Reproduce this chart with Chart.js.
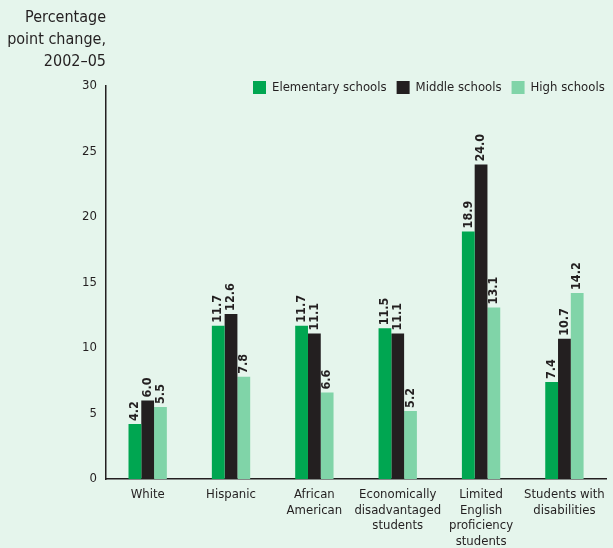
<!DOCTYPE html>
<html>
<head>
<meta charset="utf-8">
<script src="https://cdn.jsdelivr.net/npm/chart.js@4"></script>
<style>
  html, body { margin: 0; padding: 0; background: #e5f5ec; }
  #wrap { position: relative; width: 613px; height: 548px; }
</style>
</head>
<body>
<div id="wrap"><canvas id="chart" width="613" height="548"></canvas></div>
<script>
// Données du graphique
const categories = [
    ['White'],
    ['Hispanic'],
    ['African', 'American'],
    ['Economically', 'disadvantaged', 'students'],
    ['Limited', 'English', 'proficiency', 'students'],
    ['Students with', 'disabilities']
];
const seriesNames = ['Elementary schools', 'Middle schools', 'High schools'];
const elementary = [4.2, 11.7, 11.7, 11.5, 18.9, 7.4];
const middle = [6.0, 12.6, 11.1, 11.1, 24.0, 10.7];
const high = [5.5, 7.8, 6.6, 5.2, 13.1, 14.2];
const yTicks = [0, 5, 10, 15, 20, 25, 30];
const titleLines = ['Percentage', 'point change,', '2002\u201305'];

const colors = ['#00a651', '#231f20', '#80d4a8'];
const FONT = '"Liberation Sans Narrow", "DejaVu Sans Condensed", sans-serif';
const TEXT = '#231f20';

// Plugin : titre, légende et étiquettes de valeurs
const decorations = {
    id: 'decorations',
    afterDraw(chart) {
        const ctx = chart.ctx;
        ctx.save();
        // Titre de l'axe
        ctx.fillStyle = TEXT;
        ctx.font = '16px ' + FONT;
        ctx.textAlign = 'right';
        ctx.textBaseline = 'middle';
        titleLines.forEach((t, i) => ctx.fillText(t, 106, 18 + i * 22));

        // Légende
        ctx.font = '13px ' + FONT;
        ctx.textAlign = 'left';
        let x = 253;
        seriesNames.forEach((name, i) => {
            ctx.fillStyle = colors[i];
            ctx.fillRect(x, 81, 13, 13);
            ctx.fillStyle = TEXT;
            ctx.fillText(name, x + 19, 88);
            x += 19 + ctx.measureText(name).width + 10;
        });

        // Valeurs verticales au-dessus des barres
        ctx.font = 'bold 12.5px ' + FONT;
        ctx.textAlign = 'left';
        ctx.textBaseline = 'middle';
        chart.data.datasets.forEach((ds, di) => {
            chart.getDatasetMeta(di).data.forEach((bar, i) => {
                ctx.save();
                ctx.translate(bar.x, bar.y - 3);
                ctx.rotate(-Math.PI / 2);
                ctx.fillStyle = TEXT;
                ctx.fillText(ds.data[i].toFixed(1), 0, 0);
                ctx.restore();
            });
        });
        ctx.restore();
    }
};

const chart = new Chart(document.getElementById('chart'), {
    type: 'bar',
    data: {
        labels: categories,
        datasets: [
            { label: seriesNames[0], data: elementary, backgroundColor: colors[0] },
            { label: seriesNames[1], data: middle, backgroundColor: colors[1] },
            { label: seriesNames[2], data: high, backgroundColor: colors[2] }
        ]
    },
    options: {
        responsive: false,
        animation: false,
        layout: { padding: { top: 86, right: 3, left: 0, bottom: 0 } },
        datasets: { bar: { barPercentage: 1, categoryPercentage: 0.46 } },
        plugins: {
            legend: { display: false },
            tooltip: { enabled: false }
        },
        scales: {
            x: {
                grid: { display: false, drawTicks: false },
                border: { display: true, color: TEXT, width: 1.5 },
                ticks: {
                    color: TEXT,
                    padding: 8,
                    maxRotation: 0,
                    autoSkip: false,
                    font: { family: FONT, size: 13, lineHeight: 1.2 }
                },
                afterFit(scale) { scale.height = 69; }
            },
            y: {
                min: 0,
                max: 30,
                afterBuildTicks(scale) { scale.ticks = yTicks.map(v => ({ value: v })); },
                grid: { display: false, drawTicks: false },
                border: { display: true, color: TEXT, width: 1.5 },
                ticks: {
                    color: TEXT,
                    padding: 9,
                    font: { family: FONT, size: 13 }
                },
                afterFit(scale) { scale.width = 106; }
            }
        }
    },
    plugins: [decorations]
});
</script>
</body>
</html>
